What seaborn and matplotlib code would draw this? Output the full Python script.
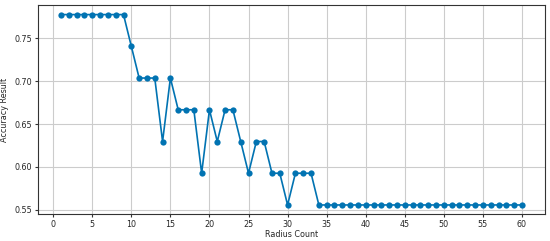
import numpy as np
import pandas as pd
import seaborn as sns
import matplotlib
matplotlib.use("Agg")
import matplotlib.pyplot as plt

radius = list(range(1, 61))
# accuracy values (multiples of 1/27)
correct = ([21] * 9 + [20] + [19, 19, 19] + [17] + [19] + [18, 18, 18] + [16] + [18] + [17]
           + [18, 18] + [17] + [16] + [17, 17] + [16, 16] + [15] + [16, 16, 16] + [15] * 27)
accuracy = [c / 27 for c in correct]

df = pd.DataFrame({"Radius Count": radius, "Accuracy Result": accuracy})

sns.set_style("whitegrid", {"grid.color": "#cccccc", "axes.edgecolor": "#333333"})
plt.rcParams["font.family"] = ["DejaVu Sans"]

fig, ax = plt.subplots(figsize=(5.5, 2.41), dpi=100)
sns.lineplot(data=df, x="Radius Count", y="Accuracy Result", marker="o", color="#0173b2",
             markersize=4.5, markeredgewidth=0, linewidth=1.2, ax=ax)
ax.set_xticks(np.arange(0, 61, 5))
ax.set_yticks([0.55, 0.60, 0.65, 0.70, 0.75])
ax.tick_params(labelsize=5.8, length=2.5, pad=1.5, color="#333333", left=True, bottom=True)
ax.set_xlabel("Radius Count", fontsize=5.8, labelpad=1)
ax.set_ylabel("Accuracy Result", fontsize=5.8, labelpad=4)
for s in ax.spines.values():
    s.set_linewidth(0.8)
plt.subplots_adjust(left=0.069, right=0.991, top=0.979, bottom=0.11)
plt.savefig("out.png", dpi=100)
